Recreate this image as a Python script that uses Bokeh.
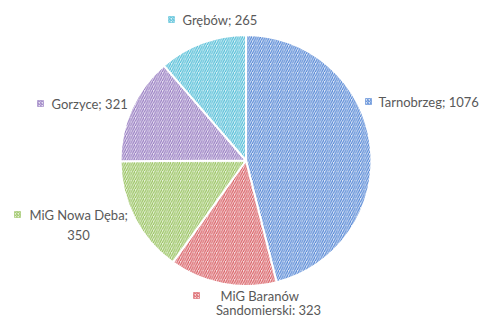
import numpy as np
from bokeh.plotting import figure
from bokeh.models import Range1d, ColumnDataSource
from bokeh.core.properties import value
from bokeh.embed import file_html
from bokeh.resources import INLINE

# ---- data ----
names = ["Tarnobrzeg", "MiG Baranów Sandomierski", "MiG Nowa Dęba", "Gorzyce", "Grębów"]
values = [1076, 323, 350, 321, 265]
label_first = ["Tarnobrzeg; 1076", "MiG Baranów", "MiG Nowa Dęba;", "Gorzyce; 321", "Grębów; 265"]
label_second = ["", "Sandomierski: 323", "350", "", ""]

# ---- styles ----
hatch_colors = ["#4f83d4", "#d8595f", "#95c15a", "#9478c0", "#4cbcd6"]
fill_colors = ["#dce6f6", "#f6dcdd", "#e6f0d9", "#e6e0f0", "#d9f0f6"]

W, H = 480, 318
p = figure(width=W, height=H, output_backend="svg", toolbar_location=None,
           x_range=Range1d(0, W), y_range=Range1d(0, H), min_border=0)
p.axis.visible = False
p.grid.visible = False
p.outline_line_color = None
p.background_fill_color = "white"

total = float(sum(values))
cum = np.cumsum([0] + values)
starts = np.pi / 2 - 2 * np.pi * cum[:-1] / total
ends = np.pi / 2 - 2 * np.pi * cum[1:] / total

cx, cy, r = 245.5, H - 160, 125.5
src = ColumnDataSource(dict(start=starts, end=ends, fill=fill_colors, hatch=hatch_colors))
p.wedge(x=cx, y=cy, radius=r, start_angle="start", end_angle="end", direction="clock",
        source=src, fill_color="fill", hatch_color="hatch", hatch_pattern="/",
        hatch_scale=4.5, hatch_weight=1.1, line_color="white", line_width=2)

# label layout (page pixel positions)
first_pos = [(378, 101), (220, 295), (29, 214), (51, 103), (182, 19)]
marker_pos = [(368, 101), (196, 295), (17, 214), (40, 103), (171, 19)]
second_pos = [None, (268, 309), (78, 234), None, None]

FS = "13px"
for i in range(len(values)):
    mx, my = marker_pos[i]
    p.scatter(x=[mx], y=[H - my], marker="square", size=6, fill_color=fill_colors[i],
              hatch_color=hatch_colors[i], hatch_pattern="/", hatch_scale=3,
              line_color=hatch_colors[i], line_width=0.5)
    fx, fy = first_pos[i]
    p.text(x=[fx], y=[H - fy], text=[label_first[i]], text_font=value("Lato"),
           text_font_size=FS, text_color="#595959", text_align="left",
           text_baseline="middle")
    if second_pos[i] is not None:
        sx, sy = second_pos[i]
        p.text(x=[sx], y=[H - sy], text=[label_second[i]], text_font=value("Lato"),
               text_font_size=FS, text_color="#595959", text_align="center",
               text_baseline="middle")

open("out.html", "w").write(file_html(p, INLINE))
